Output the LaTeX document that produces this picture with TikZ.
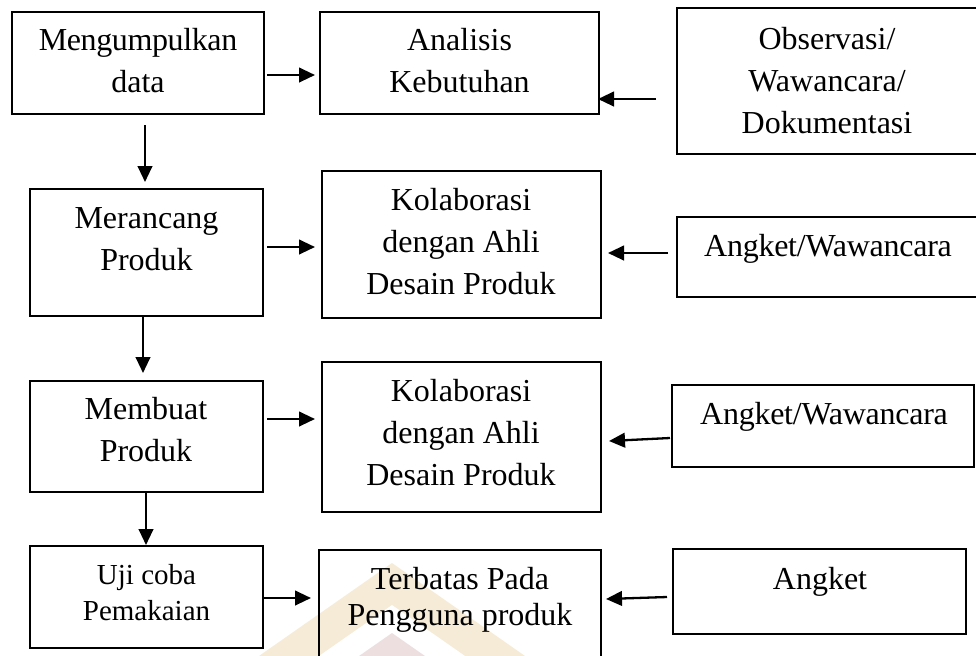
\documentclass[tikz,border=0pt]{standalone}
\usepackage{fontspec}
\setmainfont{Liberation Serif}
\usetikzlibrary{arrows.meta}
\definecolor{wmcream}{RGB}{246,235,214}
\definecolor{wmpink}{RGB}{237,223,223}
\begin{document}
\begin{tikzpicture}[x=0.5pt,y=-0.5pt,
  box/.style={draw=black, line width=0.85pt, inner sep=0pt, outer sep=0pt},
  txt/.style={align=center, inner sep=0pt, font=\fontsize{16pt}{21pt}\selectfont},
  arr/.style={line width=1.15pt, -{Triangle[length=8pt,width=7.3pt]}}]
\useasboundingbox (0,0) rectangle (976,655);
\clip (0,0) rectangle (976,655);
% watermark
\fill[wmcream] (392,563) -- (588,700) -- (196,700) -- cycle;
\fill[white] (392,605) -- (528,700) -- (256,700) -- cycle;
\fill[wmpink] (392,633) -- (488,700) -- (296,700) -- cycle;
% boxes
\node[box, minimum width=126pt,   minimum height=51pt]   (b1)  at (138,63) {};
\node[box, minimum width=139.5pt, minimum height=51pt]   (b2)  at (459.5,63) {};
\node[box, minimum width=150.5pt, minimum height=73pt]   (b3)  at (827.5,81) {};
\node[box, minimum width=116.5pt, minimum height=63.5pt] (b4)  at (146.5,252.5) {};
\node[box, minimum width=139.5pt, minimum height=73.5pt] (b5)  at (461.5,244.5) {};
\node[box, minimum width=150.5pt, minimum height=40pt]   (b6)  at (827.5,257) {};
\node[box, minimum width=116.5pt, minimum height=55.5pt] (b7)  at (146.5,436.5) {};
\node[box, minimum width=139.5pt, minimum height=75pt]   (b8)  at (461.5,437) {};
\node[box, minimum width=116.5pt, minimum height=51pt]   (b9)  at (146.5,597) {};
\node[box, minimum width=141pt,   minimum height=75pt]   (b10) at (460,625) {};
\node[box, minimum width=151pt,   minimum height=41pt]   (b11) at (823,426) {};
\node[box, minimum width=146.5pt, minimum height=42.5pt] (b12) at (819.5,591.5) {};
% texts
\node[txt] (t1) at (138,61) {{\addfontfeatures{LetterSpace=-1.2}Mengumpulkan}\\data};
\node[txt] (t2) at (459.5,61) {Analisis\\Kebutuhan};
\node[txt] (t3) at (827,80.5) {Observasi/\\Wawancara/\\Dokumentasi};
\node[txt] (t4) at (146.5,239.5) {Merancang\\Produk};
\node[txt] (t5) at (461,242) {Kolaborasi\\dengan Ahli\\Desain Produk};
\node[txt] (t6) at (828,248.5) {\addfontfeatures{LetterSpace=-0.8}Angket/Wawancara};
\node[txt] (t7) at (146,430) {Membuat\\Produk};
\node[txt] (t8) at (461,432.5) {Kolaborasi\\dengan Ahli\\Desain Produk};
\node[txt, font=\fontsize{14.5pt}{18pt}\selectfont] (t9) at (146.5,593) {Uji coba\\Pemakaian};
\node[txt, font=\fontsize{16pt}{18pt}\selectfont] (t10) at (460,600) {Terbatas Pada\\Pengguna produk};
\node[txt] (t11) at (824,416.5) {\addfontfeatures{LetterSpace=-0.8}Angket/Wawancara};
\node[txt] (t12) at (820,582) {Angket};
% connectors
\draw[arr] ([shift={(3,12)}]b1.east) -- ([shift={(-5,12)}]b2.west);
\draw[arr] ([shift={(-21,18)}]b3.west) -- ([shift={(-1,36)}]b2.east);
\draw[arr] ([shift={(7,11)}]b1.south) -- ([shift={(-1.5,-7)}]b4.north);
\draw[arr] ([shift={(4,-5.5)}]b4.east) -- ([shift={(-7,2.5)}]b5.west);
\draw[arr] ([shift={(-9,-4)}]b6.west) -- ([shift={(7,8.5)}]b5.east);
\draw[arr] ([shift={(-3.5,1)}]b4.south) -- ([shift={(-3.5,-8)}]b7.north);
\draw[arr] ([shift={(4,-17.5)}]b7.east) -- ([shift={(-7,-18)}]b8.west);
\draw[arr] ([shift={(-2,12)}]b11.west) -- ([shift={(8,4)}]b8.east);
\draw[arr] ([shift={(-0.5,1)}]b7.south) -- ([shift={(-0.5,-1)}]b9.north);
\draw[arr] ([shift={(0.5,1)}]b9.east) -- ([shift={(-8,-27)}]b10.west);
\draw[arr] ([shift={(-6,5.5)}]b12.west) -- ([shift={(5,-26)}]b10.east);
\end{tikzpicture}
\end{document}
